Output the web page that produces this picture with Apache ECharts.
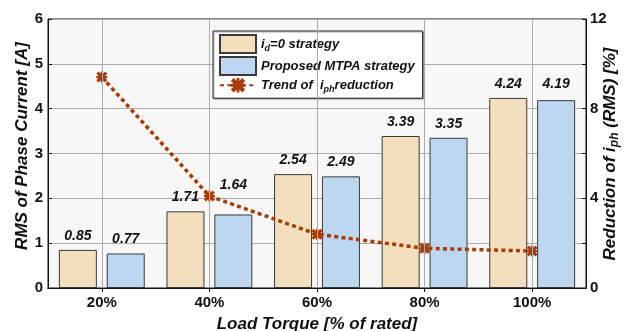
<!DOCTYPE html>
<html>
<head>
<meta charset="utf-8">
<script src="https://cdn.jsdelivr.net/npm/echarts@6/dist/echarts.min.js"></script>
<style>
  html, body { margin: 0; padding: 0; background: #fff; }
  #chart { width: 624px; height: 331px; }
</style>
</head>
<body>
<div id="chart"></div>
<script>
// Load levels on the category axis
const loadLevels = ['20%', '40%', '60%', '80%', '100%'];
// RMS phase current [A] for each control strategy
const currentId0 = [0.85, 1.71, 2.54, 3.39, 4.24];
const currentMtpa = [0.77, 1.64, 2.49, 3.35, 4.19];
// Reduction of phase current RMS [%]
const reductionPct = [9.41, 4.10, 2.40, 1.77, 1.65];
// Right-axis ticks that carry a label
const rightLabelTicks = [0, 4, 8, 12];

// Extra vertical nudge (px) for value labels that would collide with the trend line
const labelNudge = { mtpa: { 1: -15, 4: -2 } };

const FONT = 'Liberation Sans, Arial, sans-serif';
const TREND_COLOR = '#a93b07';
const GRID_COLOR = '#ababab';

function barData(values, key) {
  return values.map((v, i) => {
    const dy = (labelNudge[key] || {})[i];
    return dy ? { value: v, label: { offset: [0, dy] } } : v;
  });
}

const labelStyle = {
  show: true,
  position: 'top',
  distance: 7,
  fontFamily: FONT,
  fontSize: 14,
  fontWeight: 'bold',
  fontStyle: 'italic',
  color: '#111',
  formatter: p => p.value.toFixed(2)
};

const richText = {
  t: { fontFamily: FONT, fontSize: 13, fontWeight: 'bold', fontStyle: 'italic', color: '#111', lineHeight: 18 },
  s: { fontFamily: FONT, fontSize: 9, fontWeight: 'bold', fontStyle: 'italic', color: '#111', lineHeight: 8, verticalAlign: 'bottom' }
};

const nameRich = {
  t: { fontFamily: FONT, fontSize: 17, fontWeight: 'bold', fontStyle: 'italic', fill: '#111', lineHeight: 22 },
  s: { fontFamily: FONT, fontSize: 12, fontWeight: 'bold', fontStyle: 'italic', fill: '#111', lineHeight: 10, verticalAlign: 'bottom' }
};

const xMarker = 'path://M0,2 L2,0 L5,3 L8,0 L10,2 L7,5 L10,8 L8,10 L5,7 L2,10 L0,8 L3,5 Z M4,0 L6,0 L6,4 L10,4 L10,6 L6,6 L6,10 L4,10 L4,6 L0,6 L0,4 L4,4 Z';

const chart = echarts.init(document.getElementById('chart'), null, { renderer: 'canvas' });

chart.setOption({
  animation: false,
  textStyle: { fontFamily: FONT },
  grid: {
    left: 48, right: 38, top: 19, bottom: 43,
    outerBoundsMode: 'none',
    containLabel: false,
    show: true,
    backgroundColor: '#f7f7f7',
    borderColor: '#111',
    borderWidth: 1
  },
  // rotated y-axis titles
  graphic: [
    {
      type: 'text',
      x: 22, y: 146,
      rotation: Math.PI / 2,
      silent: true,
      style: {
        text: '{t|RMS of Phase Current [A]}',
        rich: nameRich,
        align: 'center',
        verticalAlign: 'middle'
      }
    },
    {
      type: 'text',
      x: 610, y: 154,
      rotation: Math.PI / 2,
      silent: true,
      style: {
        text: '{t|Reduction of i}{s|ph}{t| (RMS) [%]}',
        rich: nameRich,
        align: 'center',
        verticalAlign: 'middle'
      }
    }
  ],
  legend: {
    data: [
      { name: 'id0', icon: 'rect' },
      { name: 'mtpa', icon: 'rect' },
      { name: 'trend' }
    ],
    orient: 'vertical',
    left: 213,
    top: 31,
    padding: [3, 8, 4, 6],
    itemGap: 2,
    itemWidth: 36,
    itemHeight: 18,
    backgroundColor: '#ffffff',
    borderColor: '#222',
    borderWidth: 1,
    shadowColor: 'rgba(0,0,0,0.35)',
    shadowOffsetX: 1,
    shadowOffsetY: 1,
    shadowBlur: 1,
    textStyle: { rich: richText, padding: [0, 0, 0, 0] },
    formatter: name => {
      if (name === 'id0') return '{t|i}{s|d}{t|=0 strategy}';
      if (name === 'mtpa') return '{t|Proposed MTPA strategy}';
      return '{t|Trend of  i}{s|ph}{t|reduction}';
    }
  },
  xAxis: [
    {
      type: 'category',
      data: loadLevels,
      position: 'bottom',
      name: 'Load Torque [% of rated]',
      nameLocation: 'middle',
      nameGap: 28,
      nameTextStyle: { fontFamily: FONT, fontSize: 17, fontWeight: 'bold', fontStyle: 'italic', color: '#111' },
      axisLine: { show: true, lineStyle: { color: '#111', width: 1 } },
      axisTick: { show: true, inside: true, alignWithLabel: true, length: 4, lineStyle: { color: '#111' } },
      axisLabel: { fontFamily: FONT, fontSize: 15, fontWeight: 'bold', color: '#111', margin: 7 },
      splitLine: { show: false }
    },
    {
      type: 'category',
      data: loadLevels,
      position: 'top',
      axisLine: { show: true, lineStyle: { color: '#111', width: 1 } },
      axisTick: { show: true, inside: true, alignWithLabel: true, length: 4, lineStyle: { color: '#111' } },
      axisLabel: { show: false },
      splitLine: { show: false }
    }
  ],
  yAxis: [
    {
      type: 'value',
      min: 0, max: 6, interval: 1,
      position: 'left',
      axisLine: { show: true, lineStyle: { color: '#111', width: 1 } },
      axisTick: { show: true, inside: true, length: 4, lineStyle: { color: '#111' } },
      axisLabel: { fontFamily: FONT, fontSize: 15, fontWeight: 'bold', color: '#111', margin: 5 },
      splitLine: { show: true, lineStyle: { color: GRID_COLOR, width: 1 } }
    },
    {
      type: 'value',
      min: 0, max: 12, interval: 2,
      position: 'right',
      axisLine: { show: true, lineStyle: { color: '#111', width: 1 } },
      axisTick: { show: true, inside: true, length: 4, lineStyle: { color: '#111' } },
      axisLabel: {
        fontFamily: FONT, fontSize: 15, fontWeight: 'bold', color: '#111', margin: 4,
        formatter: v => (rightLabelTicks.indexOf(v) >= 0 ? String(v) : '')
      },
      splitLine: { show: false }
    }
  ],
  series: [
    {
      // vertical grid lines through the category centres
      name: 'vgrid',
      type: 'line',
      data: [],
      z: 1,
      silent: true,
      markLine: {
        silent: true,
        symbol: 'none',
        label: { show: false },
        lineStyle: { color: GRID_COLOR, width: 1, type: 'solid' },
        data: loadLevels.map(c => ({ xAxis: c }))
      }
    },
    {
      name: 'id0',
      type: 'bar',
      data: barData(currentId0, 'id0'),
      barWidth: 38,
      barGap: '26%',
      z: 2,
      itemStyle: { color: '#f3dfbe', borderColor: '#3a3a3a', borderWidth: 1 },
      label: labelStyle
    },
    {
      name: 'mtpa',
      type: 'bar',
      data: barData(currentMtpa, 'mtpa'),
      barWidth: 38,
      z: 2,
      itemStyle: { color: '#bdd7f1', borderColor: '#3a3a3a', borderWidth: 1 },
      label: labelStyle
    },
    {
      name: 'trend',
      type: 'line',
      yAxisIndex: 1,
      data: reductionPct,
      z: 4,
      symbol: xMarker,
      symbolSize: 11,
      lineStyle: { color: TREND_COLOR, width: 3.5, type: [4, 3.3] },
      itemStyle: { color: TREND_COLOR }
    }
  ]
});
</script>
</body>
</html>
